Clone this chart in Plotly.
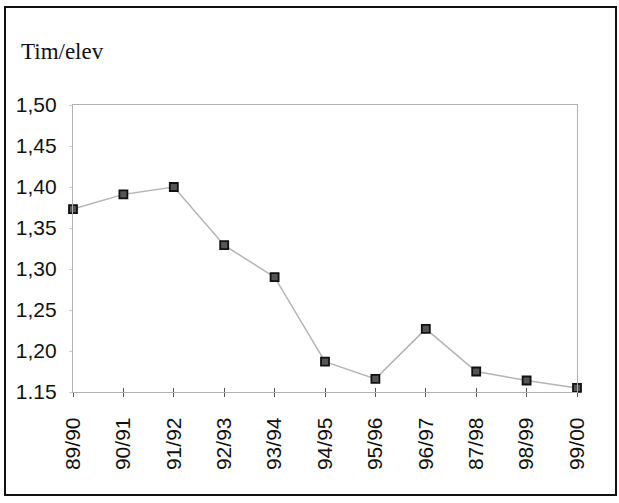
import plotly.graph_objects as go

years = ["89/90", "90/91", "91/92", "92/93", "93/94", "94/95",
         "95/96", "96/97", "87/98", "98/99", "99/00"]
tim_per_elev = [1.373, 1.391, 1.400, 1.329, 1.290, 1.187,
                1.166, 1.227, 1.175, 1.164, 1.155]
y_ticks = [1.15, 1.20, 1.25, 1.30, 1.35, 1.40, 1.45, 1.50]
y_tick_labels = ["1.15", "1,20", "1,25", "1,30", "1,35", "1,40", "1,45", "1,50"]

# plot area in pixels: x 73..577, y 105..392
L, R, T, B = 73, 42, 105, 111
W, H = 619, 503
pw, ph = W - L - R, H - T - B


def px(x):
    return (x - L) / pw


def py(y):
    return (H - B - y) / ph


xs = list(range(len(years)))

fig = go.Figure()
fig.add_trace(go.Scatter(
    x=xs, y=tim_per_elev, mode="lines+markers",
    line=dict(color="#b4b4b4", width=1.5),
    marker=dict(symbol="square", size=8, color="#555555",
                line=dict(color="#111111", width=1.8)),
    cliponaxis=False, showlegend=False, hoverinfo="skip"))
# invisible trace so the inner tick axis gets drawn
fig.add_trace(go.Scatter(x=xs, y=tim_per_elev, xaxis="x2", mode="none",
                         showlegend=False, hoverinfo="skip"))

fig.update_layout(
    width=W, height=H,
    margin=dict(l=L, r=R, t=T, b=B, pad=0),
    paper_bgcolor="white", plot_bgcolor="white",
    font=dict(family="Liberation Sans, Arial", size=21, color="#111111"),
    xaxis=dict(range=[0, len(years) - 1], tickvals=xs, ticktext=years,
               tickangle=-90, showgrid=False, zeroline=False,
               showline=True, mirror=True, linecolor="#b0b0b0", linewidth=1.2,
               ticks="outside", ticklen=4, tickcolor="#555555", tickwidth=1,
               ticklabelstandoff=12),
    xaxis2=dict(matches="x", overlaying="x", range=[0, len(years) - 1],
                tickvals=xs, showticklabels=False, showgrid=False,
                zeroline=False, ticks="inside", ticklen=4,
                tickcolor="#555555", tickwidth=1, side="bottom"),
    yaxis=dict(range=[1.15, 1.50], tickvals=y_ticks, ticktext=y_tick_labels,
               showgrid=False, zeroline=False,
               showline=True, mirror=True, linecolor="#b0b0b0", linewidth=1.2,
               ticks="outside", ticklen=3, tickcolor="#cccccc",
               ticklabelstandoff=8),
    annotations=[dict(text="Tim/elev", x=px(19), y=py(51), xref="paper",
                      yref="paper", xanchor="left", yanchor="middle",
                      showarrow=False,
                      font=dict(family="Liberation Serif, Times New Roman",
                                size=23, color="#111111"))],
    shapes=[dict(type="rect", xref="paper", yref="paper",
                 x0=px(5), x1=px(616), y0=py(495), y1=py(7),
                 line=dict(color="#111111", width=2))],
)

fig.write_html("out.html", config={"displayModeBar": False},
               post_script="document.body.style.margin='0';")
